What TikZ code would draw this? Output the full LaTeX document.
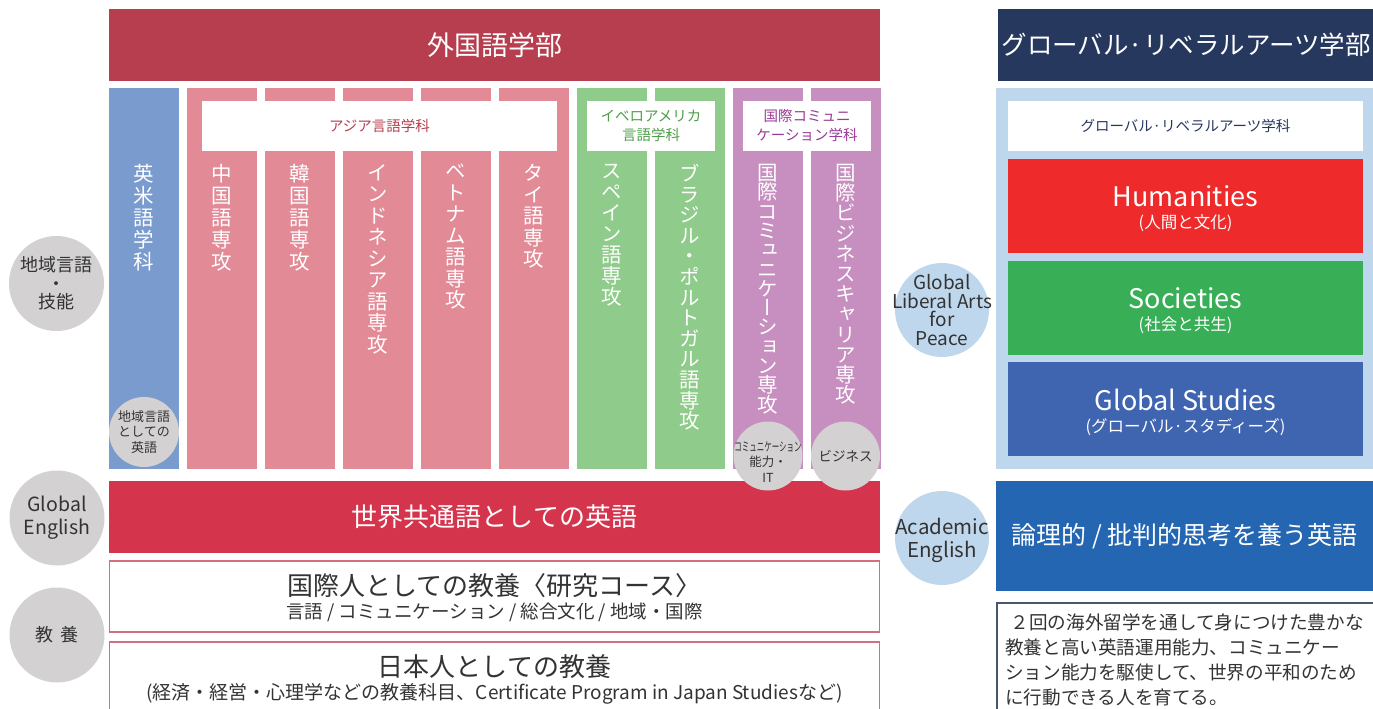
\documentclass[tikz,border=0pt]{standalone}
\usepackage{fontspec}
\usepackage{graphicx}
\setmainfont{Noto Sans CJK JP}
\newfontfamily\vjp[RawFeature=+vert]{Noto Sans CJK JP}
\ExplSyntaxOn
\NewDocumentCommand\vtxt{O{21pt}m}{\vbox{\baselineskip=#1\lineskiplimit=-100pt\lineskip=0pt\relax\tl_map_inline:nn{#2}{\hbox_to_wd:nn{1em}{\hss##1\hss}}}}
\ExplSyntaxOff
\definecolor{hdrred}{HTML}{B73E4F}
\definecolor{engblue}{HTML}{7A9BCE}
\definecolor{asiapink}{HTML}{E38A97}
\definecolor{ibgreen}{HTML}{8FCB8A}
\definecolor{icpurple}{HTML}{C78EC0}
\definecolor{circgray}{HTML}{D3D1D2}
\definecolor{bandred}{HTML}{D4344C}
\definecolor{boxpink}{HTML}{D0707C}
\definecolor{navy}{HTML}{27385F}
\definecolor{lightblue}{HTML}{BFD7EC}
\definecolor{humred}{HTML}{EE2A2A}
\definecolor{socgreen}{HTML}{38AE57}
\definecolor{gsblue}{HTML}{3F64B0}
\definecolor{acblue}{HTML}{2466B2}
\definecolor{txtgray}{HTML}{333333}
\definecolor{labgreen}{HTML}{4E9E4A}
\definecolor{labpurple}{HTML}{9B3A98}
\definecolor{framegray}{HTML}{4A5670}
\tikzset{
  blk/.style={rectangle, inner sep=0pt, outer sep=0pt, draw=none},
  col/.style={blk, minimum width=70, minimum height=381},
  lab/.style={blk, fill=white, minimum height=50, align=center, font=\fontsize{14.5}{19}\selectfont},
  circ/.style={circle, inner sep=0pt, outer sep=0pt, fill=circgray, text=txtgray, align=center},
  bluecirc/.style={circle, inner sep=0pt, outer sep=0pt, fill=lightblue, text=txtgray, align=center},
  vt/.style={anchor=north, inner sep=0pt, text=white, font=\vjp\fontsize{20.5}{21}\selectfont},
  plain/.style={inner sep=0pt, outer sep=0pt, align=center},
  glap/.style={blk, minimum width=355, minimum height=94},
}
\begin{document}
\begin{tikzpicture}[x=1pt,y=-1pt]
\useasboundingbox (0,0) rectangle (1373,709);
\clip (0,0) rectangle (1373,709);
% headers
\node[blk, fill=hdrred, minimum width=771, minimum height=72, text=white, font=\fontsize{27}{30}\selectfont] (fl) at (494.5,45) {外国語学部};
\node[blk, fill=navy, minimum width=377, minimum height=72, text=white, font=\fontsize{25.5}{30}\selectfont] (gla) at (1186,45) {グローバル·リベラルアーツ学部};
% columns
\node[col, fill=engblue] (cEng) at (144,278.5) {};
\node[col, fill=asiapink] (cZh) at (222,278.5) {};
\node[col, fill=asiapink] (cKo) at (300,278.5) {};
\node[col, fill=asiapink] (cId) at (378,278.5) {};
\node[col, fill=asiapink] (cVi) at (456,278.5) {};
\node[col, fill=asiapink] (cTh) at (534,278.5) {};
\node[col, fill=ibgreen] (cEs) at (612,278.5) {};
\node[col, fill=ibgreen] (cPt) at (690,278.5) {};
\node[col, fill=icpurple] (cIc) at (768,278.5) {};
\node[col, fill=icpurple] (cIb) at (846,278.5) {};
% department labels
\node[lab, minimum width=355, text=hdrred] (lAsia) at (379.5,126) {アジア言語学科};
\node[lab, minimum width=128, text=labgreen] (lIb) at (651,126) {イベロアメリカ\\言語学科};
\node[lab, minimum width=128, text=labpurple] (lIc) at (807,126) {国際コミュニ\\ケーション学科};
% vertical texts
\node[vt] (tEng) at (144,164) {\vtxt[22pt]{英米語学科}};
\node[vt] (tZh) at (222,164) {\vtxt[22pt]{中国語専攻}};
\node[vt] (tKo) at (300,164) {\vtxt[22pt]{韓国語専攻}};
\node[vt] (tId) at (378,164) {\vtxt[21.5pt]{インドネシア語専攻}};
\node[vt] (tVi) at (456,164) {\vtxt[21.5pt]{ベトナム語専攻}};
\node[vt] (tTh) at (534,164) {\vtxt[21.5pt]{タイ語専攻}};
\node[vt] (tEs) at (612,164) {\vtxt[21pt]{スペイン語専攻}};
\node[vt] (tPt) at (690,164) {\vtxt[20.6pt]{ブラジル・ポルトガル語専攻}};
\node[vt] (tIc) at (768,164) {\vtxt[19.3pt]{国際コミュニケーション専攻}};
\node[vt] (tIbz) at (846,164) {\vtxt[20.2pt]{国際ビジネスキャリア専攻}};
% band
\node[blk, fill=bandred, minimum width=771, minimum height=72, text=white, font=\fontsize{26}{30}\selectfont] (band) at (494.5,517) {世界共通語としての英語};
% small circles
\node[circ, minimum size=70, font=\fontsize{13}{15.5}\selectfont] (sEng) at (144,432) {地域言語\\としての\\英語};
\node[circ, minimum size=69] (sIc) at (768,456) {};
\node[plain, text=txtgray, font=\fontsize{12.5}{15.5}\selectfont] (tsIc) at (768,462) {\scalebox{0.6}[1]{コミュニケーション}\\能力・\\IT};
\node[circ, minimum size=69, font=\fontsize{13.5}{16}\selectfont] (sIb) at (845.5,456) {ビジネス};
% left circles
\node[circ, minimum size=95, font=\fontsize{18}{18.5}\selectfont] (cReg) at (56.5,283.5) {地域言語\\・\\技能};
\node[circ, minimum size=95, font=\fontsize{19.5}{23}\selectfont] (cGE) at (57,518) {Global\\English};
\node[circ, minimum size=95, font=\fontsize{18}{22}\selectfont] (cKy) at (57,635) {教\hspace{0.35em}養};
% boxes
\node[blk, draw=boxpink, line width=1.2pt, fill=white, minimum width=770, minimum height=71] (bKo) at (494.5,596.5) {};
\node[plain, text=txtgray, font=\fontsize{26}{30}\selectfont] (tKo1) at (494.5,586) {国際人としての教養〈研究コース〉};
\node[plain, text=txtgray, font=\fontsize{18.5}{20}\selectfont] (tKo2) at (494.5,612) {言語 / コミュニケーション / 総合文化 / 地域・国際};
\node[blk, draw=boxpink, line width=1.2pt, fill=white, minimum width=770, minimum height=90] (bJp) at (494.5,687) {};
\node[plain, text=txtgray, font=\fontsize{26}{30}\selectfont] (tJp1) at (494.5,667) {日本人としての教養};
\node[plain, text=txtgray, font=\fontsize{19}{20}\selectfont] (tJp2) at (494.5,694) {(経済・経営・心理学などの教養科目、Certificate Program in Japan Studiesなど)};
% right side
\node[blk, fill=lightblue, minimum width=377, minimum height=381] (rp) at (1184.5,278.5) {};
\node[blk, fill=white, minimum width=355, minimum height=50, text=navy, font=\fontsize{14.5}{18}\selectfont] (lGla) at (1185.5,126) {グローバル·リベラルアーツ学科};
\node[glap, fill=humred] (hum) at (1185.5,206) {};
\node[plain, text=white, font=\fontsize{27}{30}\selectfont] (tHum) at (1185.5,196) {Humanities};
\node[plain, text=white, font=\fontsize{16.5}{18}\selectfont] (tHum2) at (1185.5,223) {(人間と文化)};
\node[glap, fill=socgreen] (soc) at (1185.5,308) {};
\node[plain, text=white, font=\fontsize{27}{30}\selectfont] (tSoc) at (1185.5,298) {Societies};
\node[plain, text=white, font=\fontsize{16.5}{18}\selectfont] (tSoc2) at (1185.5,325) {(社会と共生)};
\node[glap, fill=gsblue] (gs) at (1185.5,409) {};
\node[plain, text=white, font=\fontsize{27}{30}\selectfont] (tGs) at (1185.5,400) {Global Studies};
\node[plain, text=white, font=\fontsize{16.5}{18}\selectfont] (tGs2) at (1185.5,427) {(グローバル·スタディーズ)};
\node[bluecirc, minimum size=94] (cGLA) at (942,310) {};
\node[plain, text=txtgray, font=\fontsize{19}{18.5}\selectfont] (tGLA) at (942,310) {Global\\Liberal Arts\\for\\Peace};
\node[bluecirc, minimum size=94] (cAE) at (942,538) {};
\node[plain, text=txtgray, font=\fontsize{20.5}{23}\selectfont] (tAE) at (942,540) {Academic\\English};
\node[blk, fill=acblue, minimum width=377, minimum height=110, text=white, font=\fontsize{25}{30}\selectfont] (ae) at (1184.5,536) {論理的 / 批判的思考を養う英語};
\node[blk, draw=framegray, line width=1.3pt, minimum width=383, minimum height=120, anchor=north west] (pbox) at (997,603) {};
\node[anchor=north west, inner sep=0pt, align=left, text=txtgray, font=\fontsize{18.6}{25}\selectfont] (ptxt) at (1005,614) {\hspace{0.3em}２回の海外留学を通して身につけた豊かな\\教養と高い英語運用能力、コミュニケー\\ション能力を駆使して、世界の平和のため\\に行動できる人を育てる。};
\end{tikzpicture}
\end{document}
